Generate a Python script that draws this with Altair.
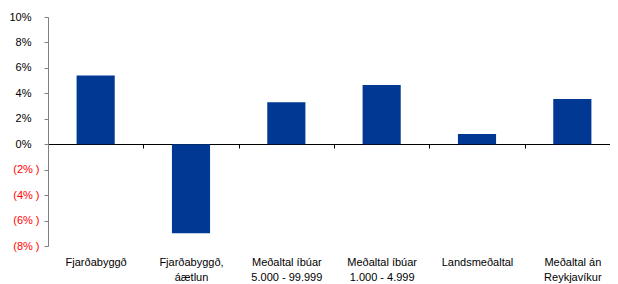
import altair as alt
import pandas as pd

categories = [
    "Fjarðabyggð",
    "Fjarðabyggð,|áætlun",
    "Meðaltal íbúar|5.000 - 99.999",
    "Meðaltal íbúar|1.000 - 4.999",
    "Landsmeðaltal",
    "Meðaltal án|Reykjavíkur",
]
values = [0.054, -0.070, 0.033, 0.0465, 0.008, 0.0355]
y_ticks = [-0.08, -0.06, -0.04, -0.02, 0.0, 0.02, 0.04, 0.06, 0.08, 0.10]

df = pd.DataFrame({"cat": categories, "val": values})

font = "Liberation Sans"

chart = alt.Chart(df).mark_bar(
    color="#003893",
    width=alt.RelativeBandSize(0.4),
).encode(
    x=alt.X(
        "cat:N",
        sort=categories,
        title=None,
        scale=alt.Scale(paddingInner=0, paddingOuter=0),
        axis=alt.Axis(
            offset=-102,
            labelAngle=0,
            labelExpr="split(datum.label, '|')",
            labelFont=font,
            labelFontSize=11,
            labelColor="#000000",
            labelLineHeight=15,
            labelPadding=108,
            tickBand="extent",
            tickSize=4,
            tickColor="#000000",
            domainColor="#000000",
            domainWidth=1,
            grid=False,
        ),
    ),
    y=alt.Y(
        "val:Q",
        title=None,
        scale=alt.Scale(domain=[-0.08, 0.10], nice=False, zero=False),
        axis=alt.Axis(
            values=y_ticks,
            labelExpr="datum.value < -0.0001 ? '(' + format(-datum.value, '.0%') + '\u00a0)' : format(datum.value, '.0%')",
            labelColor={"expr": "datum.value < -0.0001 ? '#FF0000' : '#000000'"},
            labelPadding={"expr": "datum.value < -0.0001 ? 5 : 13"},
            labelFont=font,
            labelFontSize=11,
            tickSize=4,
            tickColor="#808080",
            domainColor="#808080",
            grid=False,
        ),
    ),
).properties(
    width=572,
    height=229,
    padding={"left": 40, "top": 9, "right": -10, "bottom": 38},
    autosize=alt.AutoSizeParams(type="none"),
).configure_view(stroke=None)

chart.save("out.html", embed_options={"renderer": "svg", "actions": False})
